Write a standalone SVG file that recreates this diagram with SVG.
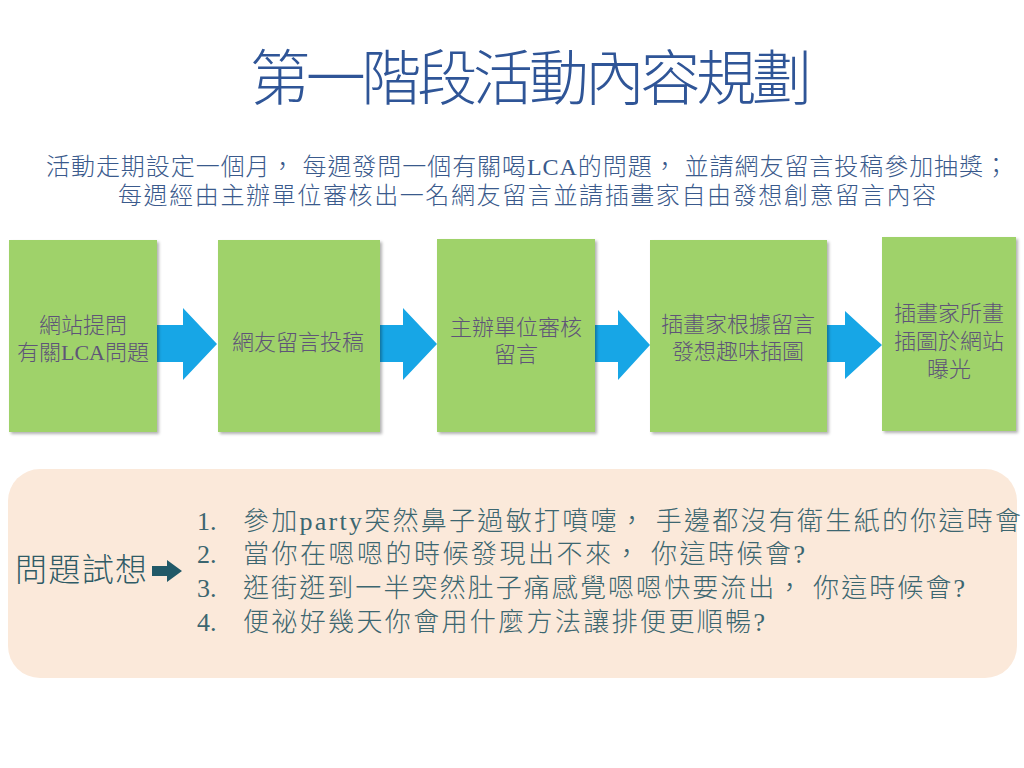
<svg xmlns="http://www.w3.org/2000/svg" width="1024" height="768" viewBox="0 0 1024 768">
<defs>
<style>
.title{font-family:"Noto Sans CJK TC","Noto Sans CJK SC",sans-serif;font-size:60px;fill:#2F5597;font-weight:300}
.sub{font-family:"Liberation Serif","Noto Sans CJK TC",serif;font-size:24px;fill:#3A5A8C;font-weight:300}
.box{fill:#9FD26A;filter:url(#sh)}
.bt{font-family:"Liberation Serif","Noto Sans CJK TC",serif;font-size:22px;fill:#5E5478;text-anchor:middle;font-weight:300}
.arr{fill:#17A6E6}
.q{font-family:"Liberation Serif","Noto Sans CJK TC",serif;font-size:32px;fill:#2F5B66;font-weight:300}
.li{font-family:"Liberation Serif","Noto Sans CJK TC",serif;font-size:26px;fill:#3C6670;font-weight:300}
.n{font-weight:400}
</style>
<filter id="sh" x="-10%" y="-10%" width="125%" height="125%">
<feDropShadow dx="2" dy="2" stdDeviation="1.5" flood-color="#000" flood-opacity="0.3"/>
</filter>
</defs>
<rect width="1024" height="768" fill="#FFFFFF"/>
<g id="title"><text class="title" x="531" y="100" text-anchor="middle" textLength="562">第一階段活動內容規劃</text></g>
<g id="subtitle">
<text class="sub" x="46" y="175" textLength="962">活動走期設定一個月， 每週發問一個有關喝<tspan class="n">LCA</tspan>的問題， 並請網友留言投稿參加抽獎；</text>
<text class="sub" x="118" y="204" textLength="818">每週經由主辦單位審核出一名網友留言並請插畫家自由發想創意留言內容</text>
</g>
<g id="connectors">
<polygon class="arr" points="157,325 183,325 183,308 217,344 183,380 183,362 157,362"/>
<polygon class="arr" points="380,325 403,325 403,308 437,344 403,380 403,362 380,362"/>
<polygon class="arr" points="595,325 618,325 618,310 650,345 618,380 618,362 595,362"/>
<polygon class="arr" points="827,325 845,325 845,311 882,345 845,379 845,362 827,362"/>
</g>
<g id="node1"><rect class="box" x="9" y="240" width="148" height="192"/>
<text class="bt" x="83" y="333">網站提問</text><text class="bt" x="83" y="360">有關<tspan class="n">LCA</tspan>問題</text></g>
<g id="node2"><rect class="box" x="218" y="240" width="162" height="192"/>
<text class="bt" x="298" y="350">網友留言投稿</text></g>
<g id="node3"><rect class="box" x="437" y="239" width="158" height="193"/>
<text class="bt" x="516" y="335">主辦單位審核</text><text class="bt" x="516" y="362">留言</text></g>
<g id="node4"><rect class="box" x="650" y="240" width="177" height="192"/>
<text class="bt" x="738" y="332">插畫家根據留言</text><text class="bt" x="738" y="359">發想趣味插圖</text></g>
<g id="node5"><rect class="box" x="882" y="237" width="134" height="194"/>
<text class="bt" x="949" y="321">插畫家所畫</text><text class="bt" x="949" y="349">插圖於網站</text><text class="bt" x="949" y="377">曝光</text></g>
<g id="questions">
<rect x="8" y="469" width="1009" height="209" rx="32" ry="32" fill="#FBE9DA"/>
<text class="q" x="15" y="581" textLength="132">問題試想</text>
<polygon points="152,566 167,566 167,560 182,571 167,582 167,576 152,576" fill="#215968"/>
<text class="li" y="530"><tspan x="197" class="n">1.</tspan><tspan x="243" textLength="778">參加<tspan class="n">party</tspan>突然鼻子過敏打噴嚏， 手邊都沒有衛生紙的你這時會</tspan></text>
<text class="li" y="563"><tspan x="197" class="n">2.</tspan><tspan x="243" textLength="562">當你在嗯嗯的時候發現出不來， 你這時候會<tspan class="n">?</tspan></tspan></text>
<text class="li" y="597"><tspan x="197" class="n">3.</tspan><tspan x="243" textLength="722">逛街逛到一半突然肚子痛感覺嗯嗯快要流出， 你這時候會<tspan class="n">?</tspan></tspan></text>
<text class="li" y="631"><tspan x="197" class="n">4.</tspan><tspan x="243" textLength="522">便祕好幾天你會用什麼方法讓排便更順暢<tspan class="n">?</tspan></tspan></text>
</g>
</svg>
